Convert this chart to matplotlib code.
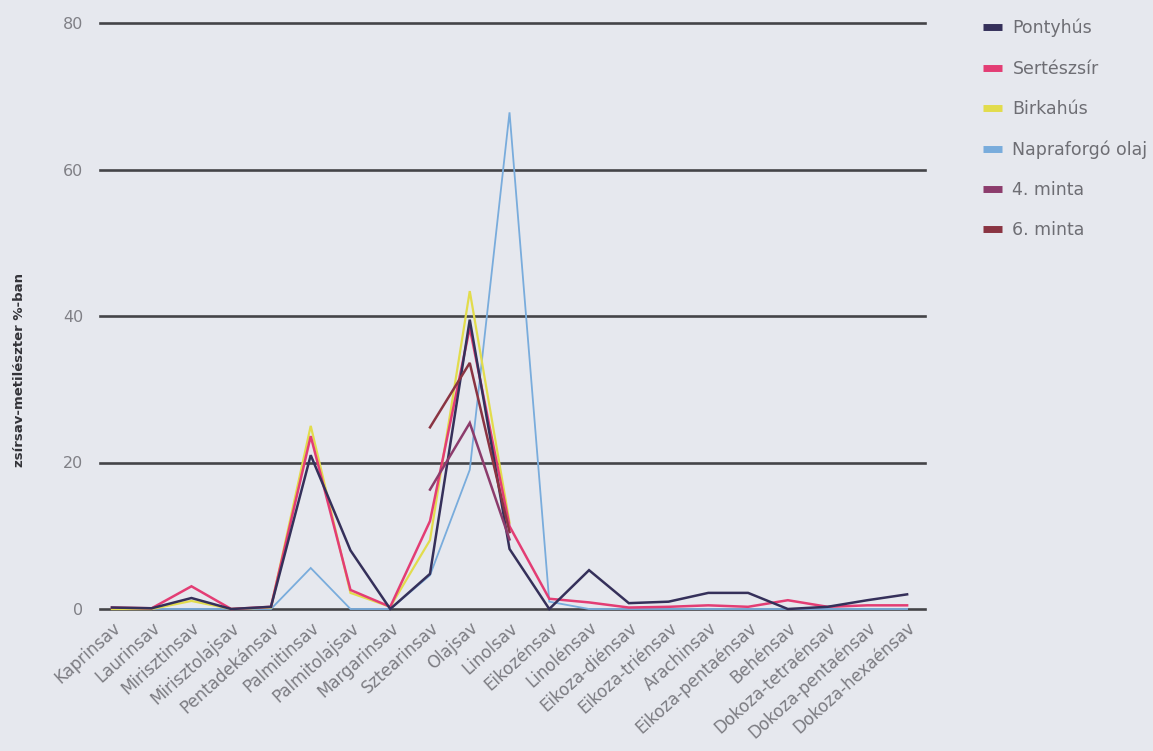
import numpy as np
import matplotlib
matplotlib.use("Agg")
import matplotlib.pyplot as plt
from matplotlib.lines import Line2D

nan = np.nan

categories = [
    "Kaprinsav", "Laurinsav", "Mirisztinsav", "Mirisztolajsav", "Pentadekánsav",
    "Palmitinsav", "Palmitolajsav", "Margarinsav", "Sztearinsav", "Olajsav",
    "Linolsav", "Eikozénsav", "Linolénsav", "Eikoza-diénsav", "Eikoza-triénsav",
    "Arachinsav", "Eikoza-pentaénsav", "Behénsav", "Dokoza-tetraénsav",
    "Dokoza-pentaénsav", "Dokoza-hexaénsav",
]

pontyhus = [0.2, 0.1, 1.5, 0.0, 0.3, 21.0, 8.0, 0.0, 4.8, 39.5, 8.2, 0.0,
            5.3, 0.8, 1.0, 2.2, 2.2, 0.0, 0.3, 1.2, 2.0]
serteszsir = [0.2, 0.1, 3.1, 0.0, 0.3, 23.6, 2.6, 0.3, 12.0, 38.4, 11.3, 1.4,
              0.9, 0.2, 0.3, 0.5, 0.3, 1.2, 0.3, 0.5, 0.5]
birkahus = [0.0, 0.0, 1.1, 0.0, 0.2, 25.0, 2.2, 0.3, 9.4, 43.4, 11.8, nan,
            nan, nan, nan, nan, nan, nan, nan, nan, nan]
napraforgo = [0.0, 0.0, 0.0, 0.0, 0.0, 5.6, 0.0, 0.0, 4.6, 19.0, 67.8, 1.0,
              0.0, 0.0, 0.0, 0.0, 0.0, 0.0, 0.0, 0.0, 0.0]
minta4 = [nan, nan, nan, nan, nan, nan, nan, nan, 16.3, 25.4, 9.5, nan,
          nan, nan, nan, nan, nan, nan, nan, nan, nan]
minta6 = [nan, nan, nan, nan, nan, nan, nan, nan, 24.8, 33.6, 10.5, nan,
          nan, nan, nan, nan, nan, nan, nan, nan, nan]

series_names = ["Pontyhús", "Sertészsír", "Birkahús", "Napraforgó olaj",
                "4. minta", "6. minta"]
series_values = [pontyhus, serteszsir, birkahus, napraforgo, minta4, minta6]
series_colors = ["#35305a", "#e33d74", "#e2dc4c", "#79acdc", "#8c3c6c", "#8a3442"]
series_widths = [1.8, 1.8, 1.6, 1.3, 1.8, 1.8]
draw_order = [3, 2, 1, 0, 5, 4]

bg = "#e6e8ee"
fig = plt.figure(figsize=(11.53, 7.51), dpi=100, facecolor=bg)
ax = fig.add_axes([100 / 1153, 1 - 609 / 751, 825 / 1153, (609 - 23) / 751])
ax.set_facecolor(bg)

x = np.arange(len(categories))
ax.set_xlim(-0.3, len(categories) - 0.55)
ax.set_ylim(0, 80)

for gy in [0, 20, 40, 60, 80]:
    ax.axhline(gy, color="#444448", lw=1.9, zorder=1, clip_on=False)

for i in draw_order:
    ax.plot(x, series_values[i], color=series_colors[i], lw=series_widths[i],
            zorder=3, clip_on=False, solid_joinstyle="miter")

for s in ax.spines.values():
    s.set_visible(False)

ax.set_yticks([0, 20, 40, 60, 80])
ax.tick_params(axis="y", length=0, pad=12, labelsize=11.5, labelcolor="#808086")
ax.set_xticks(x)
ax.set_xticklabels(categories, rotation=42, ha="right", rotation_mode="anchor",
                   fontsize=12, color="#7c7c82")
ax.tick_params(axis="x", length=0, pad=7)

fig.text(20 / 1153, 1 - 370 / 751, "zsírsav-metilészter %-ban", rotation=90,
         ha="center", va="center", fontsize=9.5, fontweight="bold", color="#333338")

handles = [Line2D([0], [0], color=c, lw=5, solid_capstyle="butt") for c in series_colors]
leg = fig.legend(handles, series_names, loc="upper left",
                 bbox_to_anchor=(976 / 1153, 1 - 12 / 751), frameon=False,
                 fontsize=12.5, handlelength=1.1, handletextpad=0.6,
                 labelspacing=1.28, borderaxespad=0)
for t in leg.get_texts():
    t.set_color("#6e6e74")

fig.savefig("out.png", dpi=100, facecolor=bg)
